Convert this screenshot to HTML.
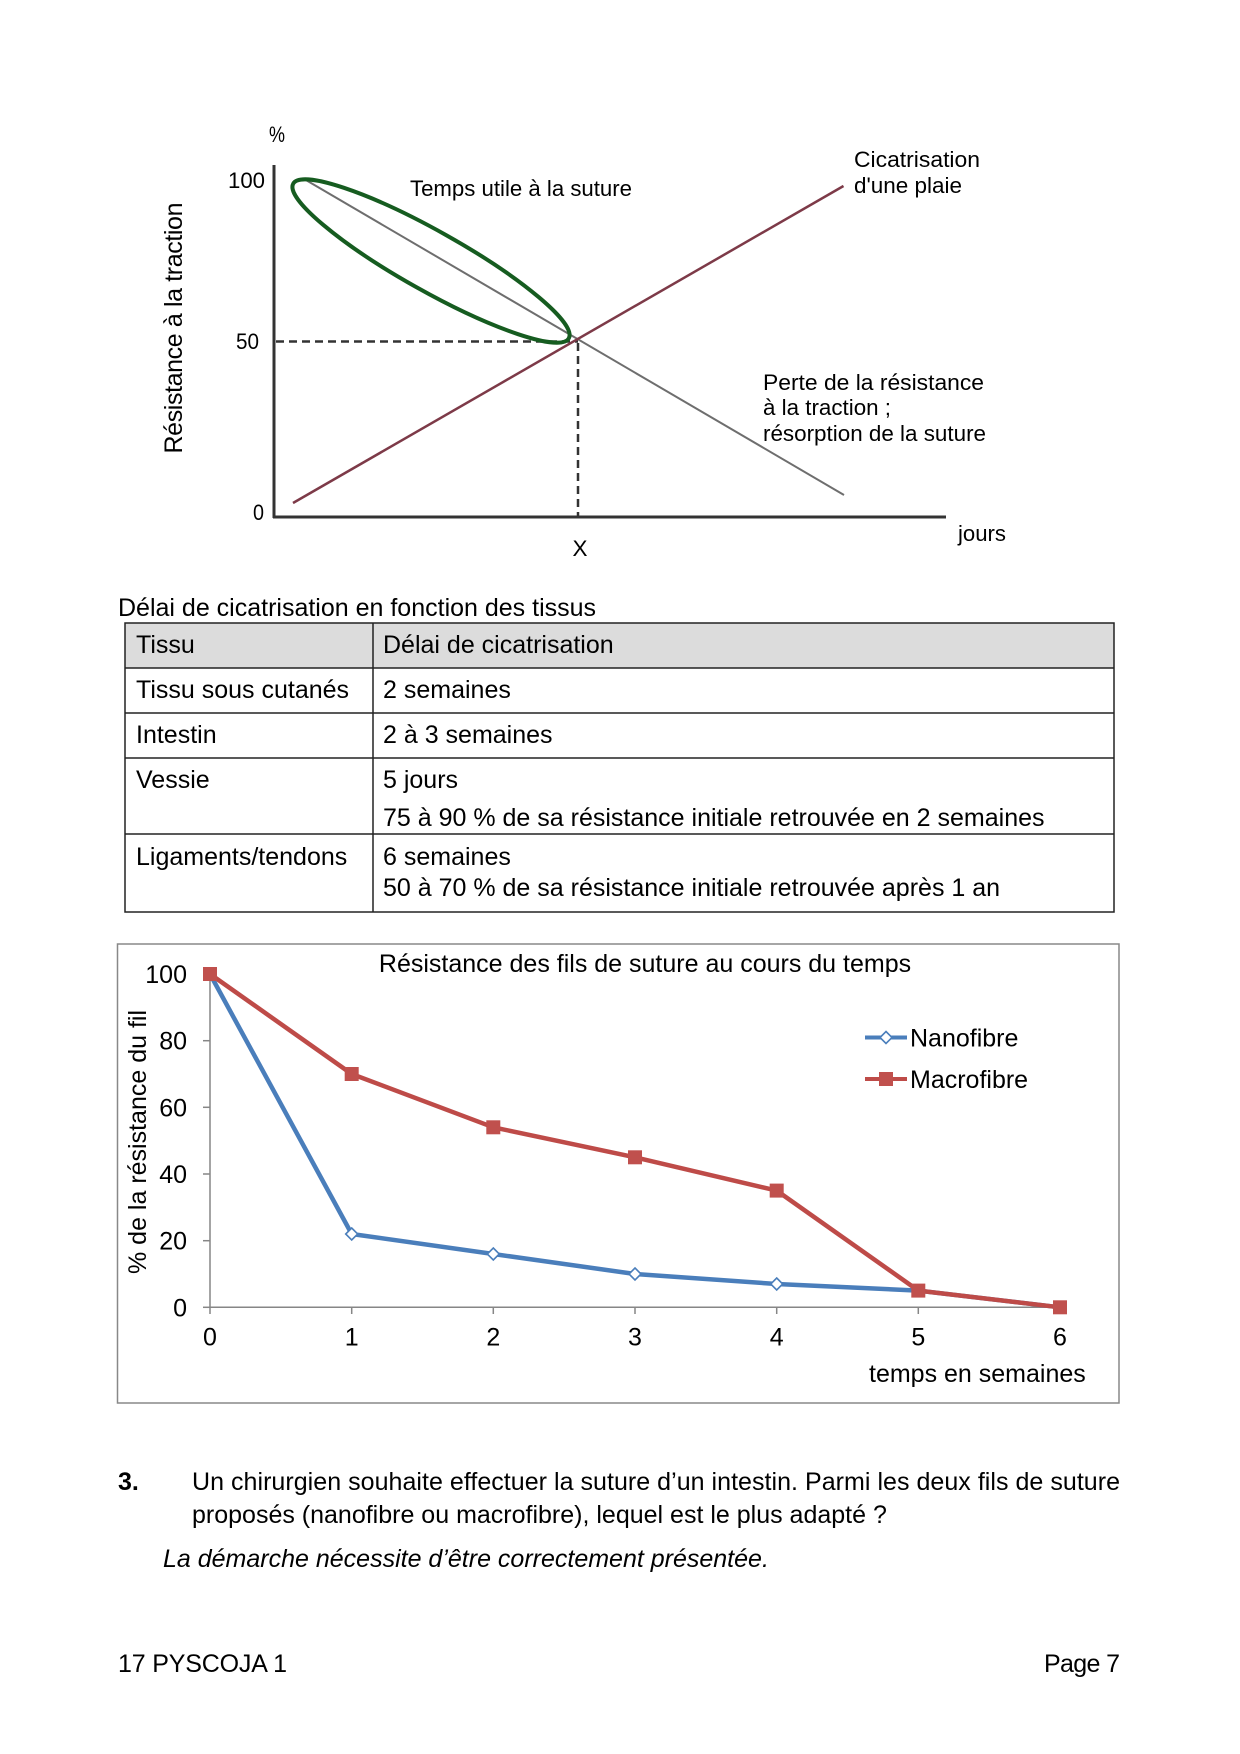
<!DOCTYPE html>
<html>
<head>
<meta charset="utf-8">
<style>
html,body{margin:0;padding:0;background:#fff;}
svg{display:block;}
text{font-family:"Liberation Sans",Arial,sans-serif;fill:#000;}
</style>
</head>
<body>
<svg width="1240" height="1754" viewBox="0 0 1240 1754" xmlns="http://www.w3.org/2000/svg">
<rect width="1240" height="1754" fill="#fff"/>

<!-- ===== Top diagram ===== -->
<g>
  <line x1="274" y1="165" x2="274" y2="518" stroke="#333" stroke-width="3"/>
  <line x1="273" y1="517" x2="946" y2="517" stroke="#333" stroke-width="3"/>
  <line x1="276" y1="341.5" x2="578" y2="341.5" stroke="#333" stroke-width="2.5" stroke-dasharray="8 5"/>
  <line x1="578" y1="343" x2="578" y2="516" stroke="#333" stroke-width="2.5" stroke-dasharray="8 5"/>
  <line x1="305" y1="179.5" x2="844" y2="495" stroke="#6e6e6e" stroke-width="2"/>
  <line x1="293" y1="503" x2="843.5" y2="186" stroke="#7d3a48" stroke-width="2.5"/>
  <ellipse cx="431" cy="261" rx="158" ry="30" transform="rotate(29.3 431 261)" fill="none" stroke="#165c20" stroke-width="4"/>

  <g font-size="22" lengthAdjust="spacingAndGlyphs">
  <text x="269" y="142" textLength="16" lengthAdjust="spacingAndGlyphs">%</text>
  <text x="265" y="188" text-anchor="end" textLength="37" lengthAdjust="spacingAndGlyphs">100</text>
  <text x="259" y="349" text-anchor="end" textLength="23" lengthAdjust="spacingAndGlyphs">50</text>
  <text x="264" y="520" text-anchor="end" textLength="11" lengthAdjust="spacingAndGlyphs">0</text>
  <text x="580" y="556" text-anchor="middle" textLength="15" lengthAdjust="spacingAndGlyphs">X</text>
  <text x="958" y="541" textLength="48" lengthAdjust="spacingAndGlyphs">jours</text>
  <text x="410" y="196" textLength="222" lengthAdjust="spacingAndGlyphs">Temps utile à la suture</text>
  <text x="854" y="167" textLength="126" lengthAdjust="spacingAndGlyphs">Cicatrisation</text>
  <text x="854" y="193" textLength="108" lengthAdjust="spacingAndGlyphs">d'une plaie</text>
  <text x="763" y="390" textLength="221" lengthAdjust="spacingAndGlyphs">Perte de la résistance</text>
  <text x="763" y="415" textLength="128" lengthAdjust="spacingAndGlyphs">à la traction ;</text>
  <text x="763" y="441" textLength="223" lengthAdjust="spacingAndGlyphs">résorption de la suture</text>
  </g>
  <text transform="translate(182 328) rotate(-90)" font-size="25" text-anchor="middle" textLength="251">Résistance à la traction</text>
</g>

<!-- ===== Table ===== -->
<g>
  <text x="118" y="616" font-size="25">Délai de cicatrisation en fonction des tissus</text>
  <rect x="125" y="623" width="989" height="45" fill="#dcdcdc"/>
  <g stroke="#222" stroke-width="1.5" fill="none">
    <rect x="125" y="623" width="989" height="289"/>
    <line x1="125" y1="668" x2="1114" y2="668"/>
    <line x1="125" y1="713" x2="1114" y2="713"/>
    <line x1="125" y1="758" x2="1114" y2="758"/>
    <line x1="125" y1="834" x2="1114" y2="834"/>
    <line x1="373" y1="623" x2="373" y2="912"/>
  </g>
  <g font-size="25">
    <text x="136" y="653">Tissu</text>
    <text x="383" y="653">Délai de cicatrisation</text>
    <text x="136" y="698">Tissu sous cutanés</text>
    <text x="383" y="698">2 semaines</text>
    <text x="136" y="743">Intestin</text>
    <text x="383" y="743">2 à 3 semaines</text>
    <text x="136" y="788">Vessie</text>
    <text x="383" y="788">5 jours</text>
    <text x="383" y="826">75 à 90 % de sa résistance initiale retrouvée en 2 semaines</text>
    <text x="136" y="865">Ligaments/tendons</text>
    <text x="383" y="865">6 semaines</text>
    <text x="383" y="896">50 à 70 % de sa résistance initiale retrouvée après 1 an</text>
  </g>
</g>

<!-- ===== Excel chart ===== -->
<g>
  <rect x="117.5" y="944" width="1001.5" height="459" fill="#fff" stroke="#888" stroke-width="1.5"/>
  <text x="645" y="972" font-size="25" text-anchor="middle">Résistance des fils de suture au cours du temps</text>

  <g stroke="#868686" stroke-width="1.5">
    <line x1="210" y1="974" x2="210" y2="1308"/>
    <line x1="210" y1="1307.3" x2="1060" y2="1307.3"/>
    <line x1="203" y1="974" x2="210" y2="974"/>
    <line x1="203" y1="1040.7" x2="210" y2="1040.7"/>
    <line x1="203" y1="1107.3" x2="210" y2="1107.3"/>
    <line x1="203" y1="1174" x2="210" y2="1174"/>
    <line x1="203" y1="1240.7" x2="210" y2="1240.7"/>
    <line x1="203" y1="1307.3" x2="210" y2="1307.3"/>
    <line x1="210" y1="1307" x2="210" y2="1314"/>
    <line x1="351.7" y1="1307" x2="351.7" y2="1314"/>
    <line x1="493.3" y1="1307" x2="493.3" y2="1314"/>
    <line x1="635" y1="1307" x2="635" y2="1314"/>
    <line x1="776.7" y1="1307" x2="776.7" y2="1314"/>
    <line x1="918.3" y1="1307" x2="918.3" y2="1314"/>
    <line x1="1060" y1="1307" x2="1060" y2="1314"/>
  </g>

  <g font-size="25" text-anchor="end">
    <text x="187" y="983">100</text>
    <text x="187" y="1049.7">80</text>
    <text x="187" y="1116.3">60</text>
    <text x="187" y="1183">40</text>
    <text x="187" y="1249.7">20</text>
    <text x="187" y="1316.3">0</text>
  </g>
  <g font-size="25" text-anchor="middle">
    <text x="210" y="1345.5">0</text>
    <text x="351.7" y="1345.5">1</text>
    <text x="493.3" y="1345.5">2</text>
    <text x="635" y="1345.5">3</text>
    <text x="776.7" y="1345.5">4</text>
    <text x="918.3" y="1345.5">5</text>
    <text x="1060" y="1345.5">6</text>
  </g>
  <text x="869" y="1382" font-size="25">temps en semaines</text>
  <text transform="translate(146 1142) rotate(-90)" font-size="25" text-anchor="middle">% de la résistance du fil</text>

  <polyline points="210,974 351.7,1234 493.3,1254 635,1274 776.7,1284 918.3,1290.6 1060,1307.3" fill="none" stroke="#4a7ebb" stroke-width="4.5" stroke-linejoin="round"/>
  <g fill="#fff" stroke="#4a7ebb" stroke-width="1.6">
    <polygon points="351.7,1228 357.7,1234 351.7,1240 345.7,1234"/>
    <polygon points="493.3,1248 499.3,1254 493.3,1260 487.3,1254"/>
    <polygon points="635,1268 641,1274 635,1280 629,1274"/>
    <polygon points="776.7,1278 782.7,1284 776.7,1290 770.7,1284"/>
  </g>

  <polyline points="210,974 351.7,1074 493.3,1127.3 635,1157.3 776.7,1190.6 918.3,1290.6 1060,1307.3" fill="none" stroke="#be4b48" stroke-width="4.5" stroke-linejoin="round"/>
  <g fill="#c0504d">
    <rect x="203" y="967" width="14" height="14"/>
    <rect x="344.7" y="1067" width="14" height="14"/>
    <rect x="486.3" y="1120.3" width="14" height="14"/>
    <rect x="628" y="1150.3" width="14" height="14"/>
    <rect x="769.7" y="1183.6" width="14" height="14"/>
    <rect x="911.3" y="1283.6" width="14" height="14"/>
    <rect x="1053" y="1300.3" width="14" height="14"/>
  </g>

  <line x1="865" y1="1037.5" x2="907" y2="1037.5" stroke="#4a7ebb" stroke-width="4"/>
  <polygon points="886,1031.5 892,1037.5 886,1043.5 880,1037.5" fill="#fff" stroke="#4a7ebb" stroke-width="1.6"/>
  <text x="910" y="1046.5" font-size="25">Nanofibre</text>
  <line x1="865" y1="1079" x2="907" y2="1079" stroke="#be4b48" stroke-width="4"/>
  <rect x="879" y="1072" width="14" height="14" fill="#c0504d"/>
  <text x="910" y="1088" font-size="25">Macrofibre</text>
</g>

<!-- ===== Question ===== -->
<g font-size="25">
  <text x="118" y="1490" font-weight="bold">3.</text>
  <text x="192" y="1490" textLength="928">Un chirurgien souhaite effectuer la suture d’un intestin. Parmi les deux fils de suture</text>
  <text x="192" y="1523">proposés (nanofibre ou macrofibre), lequel est le plus adapté ?</text>
  <text x="163" y="1567" font-style="italic">La démarche nécessite d’être correctement présentée.</text>
  <text x="118" y="1672" textLength="169">17 PYSCOJA 1</text>
  <text x="1120" y="1672" text-anchor="end" textLength="76">Page 7</text>
</g>
</svg>
</body>
</html>
